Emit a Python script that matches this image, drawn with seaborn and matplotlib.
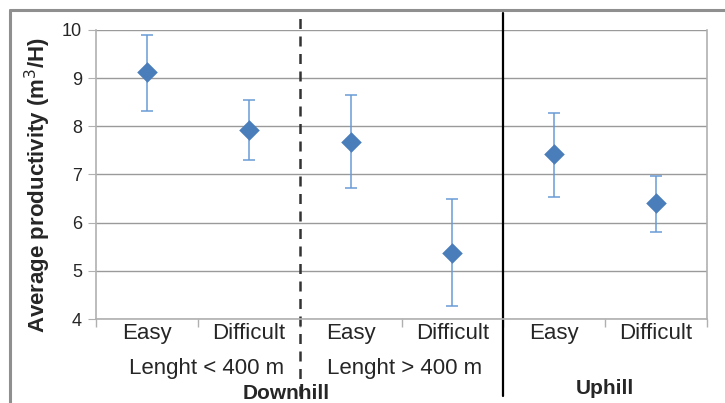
import numpy as np
import pandas as pd
import matplotlib
matplotlib.use('Agg')
import matplotlib.pyplot as plt
from matplotlib.lines import Line2D
import seaborn as sns

# datos
conditions = ['Easy', 'Difficult', 'Easy', 'Difficult', 'Easy', 'Difficult']
productivity = [9.12, 7.93, 7.68, 5.38, 7.43, 6.40]
err_low = [8.32, 7.30, 6.72, 4.27, 6.54, 5.80]
err_high = [9.90, 8.55, 8.65, 6.50, 8.28, 6.96]
length_labels = ['Lenght < 400 m', 'Lenght > 400 m']
slope_labels = ['Downhill', 'Uphill']

sns.set_style('white')
plt.rcParams['font.family'] = ['Liberation Sans', 'DejaVu Sans']

df = pd.DataFrame({'pos': np.arange(len(conditions)), 'cond': conditions,
                   'prod': productivity, 'low': err_low, 'high': err_high})

fig = plt.figure(figsize=(7.25, 4.03), dpi=100)
ax = fig.add_axes([0.1324, 0.2084, 0.8428, 0.7172])

grid_c = '#9a9a9a'
blue = '#4a7ebb'
err_c = '#6a9bd6'

# barras de error
ax.errorbar(df['pos'], df['prod'],
            yerr=[df['prod'] - df['low'], df['high'] - df['prod']],
            fmt='none', ecolor=err_c, elinewidth=1.1, capsize=4, capthick=1.1, zorder=3)
sns.scatterplot(data=df, x='pos', y='prod', marker='D', s=110, color=blue,
                edgecolor=blue, linewidth=0, ax=ax, zorder=4, legend=False)

ax.set_xlim(-0.5, len(conditions) - 0.5)
ax.set_ylim(4, 10)
ax.set_yticks(range(4, 11))
ax.yaxis.grid(True, color=grid_c, lw=1)
ax.set_axisbelow(True)

# ticks: marcas en los bordes, etiquetas en el centro
ax.set_xticks(np.arange(len(conditions) + 1) - 0.5)
ax.set_xticklabels([])
ax.set_xticks(df['pos'], minor=True)
ax.set_xticklabels(conditions, minor=True)
ax.tick_params(axis='x', which='major', length=6, color='#b0b0b0', width=1, direction='out')
ax.tick_params(axis='x', which='minor', length=0, labelsize=16, pad=3)
ax.tick_params(axis='y', length=6, color='#b0b0b0', labelsize=13, pad=4, direction='out')
ax.tick_params(axis='y', which='major', left=True)
ax.xaxis.set_tick_params(bottom=True)

for side in ['left', 'bottom', 'right']:
    ax.spines[side].set_color('#b0b0b0')
    ax.spines[side].set_linewidth(1.2)
ax.spines['top'].set_visible(False)

ax.set_xlabel('')
ax.set_ylabel('Average productivity (m$^3$/H)', fontsize=16, fontweight='bold')
ax.yaxis.set_label_coords(-0.071, 0.465)

# etiquetas de grupo
tr = ax.get_xaxis_transform()
ax.text(0.59, -0.172, length_labels[0], transform=tr, ha='center', va='center', fontsize=16)
ax.text(2.53, -0.172, length_labels[1], transform=tr, ha='center', va='center', fontsize=16)
ax.text(1.37, -0.256, slope_labels[0], transform=tr, ha='center', va='center',
        fontsize=15, fontweight='bold')
ax.text(4.5, -0.24, slope_labels[1], transform=tr, ha='center', va='center',
        fontsize=15, fontweight='bold')

# separadores
ax.axvline(1.5, ymin=-0.265, ymax=1.045, color='#333333', ls=(0, (4, 3)), lw=1.8, clip_on=False)
ax.axvline(3.5, ymin=-0.265, ymax=1.06, color='black', lw=1.6, clip_on=False)

# marco de la figura
fig.add_artist(Line2D([10 / 725, 1.0], [1 - 10 / 403] * 2, color='#8f8f8f', lw=2.2))
fig.add_artist(Line2D([10 / 725] * 2, [0, 1 - 10 / 403], color='#8f8f8f', lw=2.2))

fig.savefig('out.png', dpi=100)
